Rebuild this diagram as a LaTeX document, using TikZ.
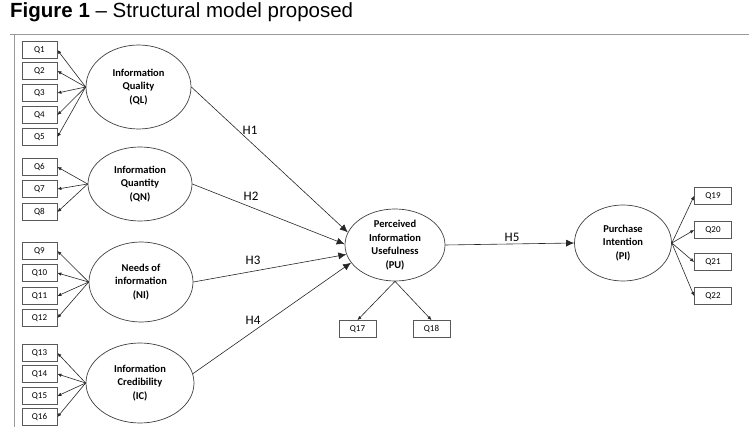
\documentclass[tikz,border=0pt]{standalone}
\usepackage{fontspec}
\setmainfont{Carlito}
\newfontfamily\titlefont{Liberation Sans}
\usetikzlibrary{shapes.geometric,arrows.meta}
\tikzset{
  qbox/.style={draw=black!65, line width=0.8pt, minimum width=35pt, minimum height=17pt, inner sep=0pt, font=\fontsize{9}{10}\selectfont},
  latent/.style={ellipse, draw=black!75, line width=0.7pt, inner sep=0pt, align=center, font=\fontsize{10.5}{13.5}\selectfont\bfseries},
  load/.style={draw=black!85, line width=0.6pt, -{Latex[length=4pt,width=3.5pt]}},
  path/.style={draw=black!85, line width=0.6pt, -{Latex[length=8pt,width=7pt]}},
  hlab/.style={font=\fontsize{13}{14}\selectfont, inner sep=0pt},
  frame/.style={draw=black!40, line width=1pt}
}
\begin{document}
\begin{tikzpicture}[x=1pt,y=-1pt]
\useasboundingbox (0,0) rectangle (749,427);
% title and frame
\node[anchor=west, inner sep=0pt, font=\titlefont\fontsize{20.5}{22}\selectfont] (title) at (10,12) {\textbf{Figure 1} – Structural model proposed};
\coordinate (fl) at (10,35);
\coordinate (fr) at (749,35);
\coordinate (vt) at (14,35);
\coordinate (vb) at (14,427);
\draw[frame] (fl) -- (fr);
\draw[frame] (vt) -- (vb);
% latent variables
\node[latent, minimum width=105pt, minimum height=84pt] (QL) at (138.5,87) {Information\\Quality\\(QL)};
\node[latent, minimum width=104pt, minimum height=74pt] (QN) at (140,184) {Information\\Quantity\\(QN)};
\node[latent, minimum width=104pt, minimum height=80pt] (NI) at (141,282) {Needs of\\information\\(NI)};
\node[latent, minimum width=108pt, minimum height=80pt] (IC) at (140,383) {Information\\Credibility\\(IC)};
\node[latent, minimum width=100pt, minimum height=72pt] (PU) at (395,245) {Perceived\\Information\\Usefulness\\(PU)};
\node[latent, minimum width=97pt, minimum height=76pt] (PI) at (623,243) {Purchase\\Intention\\(PI)};
% indicator boxes left
\foreach \n/\y in {1/50,2/71,3/93,4/115,5/137,6/167,7/189,8/212,9/251,10/273,11/296,12/318,13/353,14/374,15/396,16/417}
  \node[qbox] (Q\n) at (39.5,\y) {Q\n};
% right boxes
\foreach \n/\y in {19/196,20/230,21/262,22/296}
  \node[qbox, minimum width=37pt] (Q\n) at (713,\y) {Q\n};
\node[qbox, minimum width=37pt] (Q17) at (357.5,329) {Q17};
\node[qbox, minimum width=37pt] (Q18) at (431.5,329) {Q18};
% loadings
\foreach \n in {1,...,5} \draw[load] (QL.west) -- (Q\n.east);
\foreach \n in {6,7,8} \draw[load] (QN.west) -- (Q\n.east);
\foreach \n in {9,...,12} \draw[load] (NI.west) -- (Q\n.east);
\foreach \n in {13,...,16} \draw[load] (IC.west) -- (Q\n.east);
\foreach \n in {19,...,22} \draw[load] (PI.east) -- (Q\n.west);
\draw[load] (PU.south) -- (Q17.north);
\draw[load] (PU.south) -- (Q18.north);
% structural paths
\draw[path] (QL.east) -- (PU.165);
\draw[path] (QN.east) -- (PU.179);
\draw[path] (NI.east) -- (PU.191);
\draw[path] (IC.10) -- (PU.202);
\draw[path] (PU.east) -- (PI.west);
% labels
\node[hlab] (h1) at (250,130) {H1};
\node[hlab] (h2) at (251,196) {H2};
\node[hlab] (h3) at (253,260) {H3};
\node[hlab] (h4) at (253,320) {H4};
\node[hlab] (h5) at (512,237) {H5};
\end{tikzpicture}
\end{document}
